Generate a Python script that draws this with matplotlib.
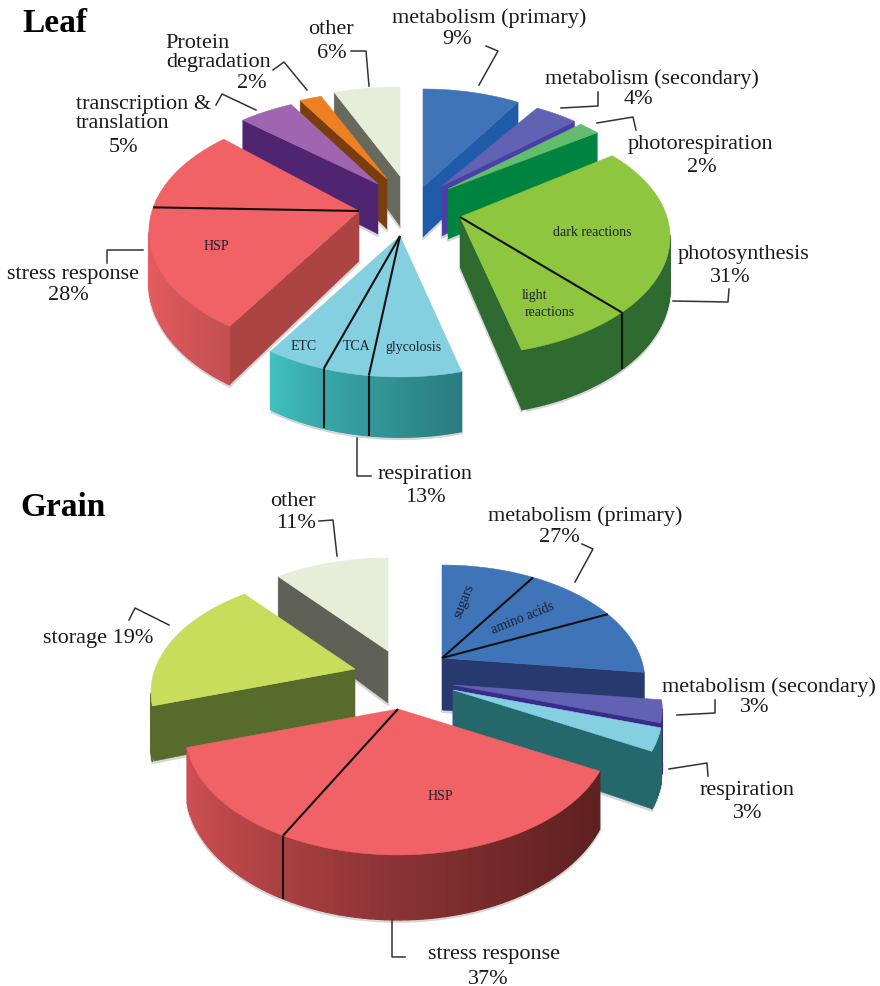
#!/usr/bin/env python3
"""Exploded 3D-style pies of protein functional classes in leaf and grain."""

import numpy as np
import matplotlib
matplotlib.use("Agg")
import matplotlib.pyplot as plt
from matplotlib.collections import PolyCollection
from matplotlib.colors import to_rgb
from matplotlib.patches import Polygon

plt.rcParams["font.family"] = ["Liberation Serif", "DejaVu Serif"]

# ---------------------------------------------------------------------------
# Data (percent of proteins per class, clockwise from 12 o'clock)
# ---------------------------------------------------------------------------

leaf_classes = ["metabolism (primary)", "metabolism (secondary)", "photorespiration",
                "photosynthesis", "respiration", "stress response",
                "transcription & translation", "Protein degradation", "other"]
leaf_values = [9, 4, 2, 31, 13, 28, 5, 2, 6]

# sub-class shares inside a class, in clockwise order
leaf_photosynthesis_parts = [23, 8]      # dark reactions, light reactions
leaf_respiration_parts = [6, 3, 4]       # glycolysis, TCA, ETC
leaf_stress_parts = [16.5, 11.5]         # HSP, remainder

grain_classes = ["metabolism (primary)", "metabolism (secondary)", "respiration",
                 "stress response", "storage", "other"]
grain_values = [27, 3, 3, 37, 19, 11]

grain_primary_parts = [9, 9, 9]          # sugars, amino acids, remainder
grain_stress_parts = [24.5, 12.5]        # HSP, remainder

# ---------------------------------------------------------------------------
# Styles: top face, outer wall at left, outer wall at right, radial wall
# ---------------------------------------------------------------------------

leaf_styles = [
    ("#4074b8", "#1f5ba8", "#1f5ba8", "#1f5ba8"),
    ("#6262b4", "#4a3fa6", "#4a3fa6", "#4a3fa6"),
    ("#62bd6c", "#00843f", "#00843f", "#00843f"),
    ("#8ec63f", "#2f6a30", "#2f6a30", "#2f6a30"),
    ("#85d0e0", "#42c2c2", "#2a7c80", "#2a7c84"),
    ("#f06266", "#e65c60", "#c44f52", "#ad4444"),
    ("#a065b0", "#4f2470", "#4f2470", "#4f2470"),
    ("#ee7f22", "#7a3d10", "#7a3d10", "#7a3d10"),
    ("#e6edd9", "#66695c", "#66695c", "#66695c"),
]
grain_styles = [
    ("#4074b8", "#28396f", "#28396f", "#28396f"),
    ("#6262b4", "#3a2a8a", "#3a2a8a", "#3a2a8a"),
    ("#85d0e0", "#24686c", "#24686c", "#24686c"),
    ("#f06266", "#d05054", "#5e2020", "#5e2020"),
    ("#c9dd5c", "#566b2c", "#566b2c", "#566b2c"),
    ("#e6edd9", "#5f6156", "#5f6156", "#5f6156"),
]

# per-slice pull-out from the pie centre (pixels), radius factor, extra vertical factor
leaf_explode = [(18, -22), (37, -23), (43, -20), (55, 8), (-5, 27),
                (-46, 2), (-27, -25), (-18, -30), (-5, -33)]
leaf_scale = [0.98, 0.98, 0.98, 1, 1, 1, 1, 1, 1]
leaf_yscale = [1, 0.92, 0.92, 0.98, 1, 1, 0.89, 0.88, 0.89]
grain_explode = [(42, -51), (53, -24), (53, -19), (-2, 0), (-45, -40), (-12, -58)]
grain_scale = [0.97, 1, 1, 1.015, 0.975, 0.97]
grain_yscale = [1, 1, 1, 1, 1, 1]

leaf_order = [8, 7, 6, 0, 1, 2, 5, 3, 4]
grain_order = [0, 1, 2, 5, 4, 3]

leaf_splits = {3: leaf_photosynthesis_parts, 4: leaf_respiration_parts, 5: leaf_stress_parts}
grain_splits = {0: grain_primary_parts, 3: grain_stress_parts}

# ---------------------------------------------------------------------------
# Annotations (pixel positions)
# ---------------------------------------------------------------------------

labels = [
    ("metabolism (primary)", 489, 16), ("9%", 457, 37),
    ("metabolism (secondary)", 652, 77), ("4%", 638, 98),
    ("photorespiration", 700, 142), ("2%", 702, 165),
    ("photosynthesis", 744, 252), ("31%", 730, 276),
    ("respiration", 425, 473), ("13%", 425, 495),
    ("stress response", 73, 273), ("28%", 68, 294),
    ("transcription &", 144, 103), ("translation", 123, 121), ("5%", 123, 146),
    ("Protein", 198, 42), ("degradation", 219, 61), ("2%", 252, 82),
    ("other", 331, 28), ("6%", 332, 52),
    ("other", 293, 500), ("11%", 296, 521),
    ("metabolism (primary)", 585, 514), ("27%", 559, 536),
    ("storage 19%", 98, 636),
    ("metabolism (secondary)", 769, 685), ("3%", 755, 706),
    ("respiration", 747, 788), ("3%", 748, 811),
    ("stress response", 494, 952), ("37%", 488, 977),
]

inner_labels = [
    ("dark reactions", 592, 232, 0), ("light", 534, 296, 0), ("reactions", 550, 313, 0),
    ("ETC", 304, 347, 0), ("TCA", 357, 347, 0), ("glycolosis", 413, 347, 0),
    ("HSP", 216, 247, 0),
    ("sugars", 464, 601, 68), ("amino acids", 523, 618, 22), ("HSP", 440, 796, 0),
]

leaders = [
    [(479, 86), (498, 52), (486, 47)],
    [(561, 109), (598, 107), (598, 93)],
    [(597, 124), (633, 118), (636, 131)],
    [(673, 302), (728, 303), (729, 290)],
    [(357, 439), (357, 477), (371, 477)],
    [(107, 264), (107, 251), (143, 251)],
    [(256, 111), (222, 95), (216, 106)],
    [(307, 91), (284, 63), (273, 71)],
    [(369, 87), (366, 52), (351, 52)],
    [(337, 557), (333, 521), (319, 522)],
    [(575, 583), (593, 550), (582, 545)],
    [(169, 626), (135, 609), (129, 621)],
    [(677, 716), (715, 714), (715, 701)],
    [(669, 770), (707, 764), (708, 777)],
    [(392, 921), (392, 958), (405, 958)],
]


# ---------------------------------------------------------------------------
# Drawing
# ---------------------------------------------------------------------------

def project(t, rx, ry, k):
    """Perspective projection of a rim angle (radians, clockwise from top)."""
    s = 1.0 / (1.0 + k * np.cos(t))
    return rx * np.sin(t) * s, -ry * np.cos(t) * s, s


def mix(c0, c1, f):
    a, b = np.array(to_rgb(c0)), np.array(to_rgb(c1))
    return tuple(a + (b - a) * f ** 0.75)


def draw_slice(ax, start, end, style, apex, rx, ry, k, depth, parts, zorder):
    top, wall_l, wall_r, wall_radial = style
    ts = np.linspace(np.deg2rad(start * 3.6), np.deg2rad(end * 3.6), 80)
    x, y, s = project(ts, rx, ry, k)
    x, y = x + apex[0], y + apex[1]
    d = depth * s

    # radial cut faces that look towards the viewer
    radial = []
    if x[0] < apex[0]:
        radial.append(0)
    if x[-1] > apex[0]:
        radial.append(-1)
    for j in radial:
        ax.plot([apex[0], x[j]], [apex[1] + depth + 1.5, y[j] + d[j] + 1.5], color="#d6d6d6",
                lw=2, zorder=zorder, solid_capstyle="round")
        ax.add_patch(Polygon([apex, (x[j], y[j]), (x[j], y[j] + d[j]), (apex[0], apex[1] + depth)],
                             fc=wall_radial, ec=wall_radial, lw=0.4, zorder=zorder))

    # outer wall, shaded strip by strip across its width
    quads, colors = [], []
    span = max(x.max() - x.min(), 1e-6)
    for i in range(len(ts) - 1):
        if x[i + 1] < x[i]:
            quads.append([(x[i], y[i]), (x[i + 1], y[i + 1]),
                          (x[i + 1], y[i + 1] + d[i + 1]), (x[i], y[i] + d[i])])
            colors.append(mix(wall_l, wall_r, (x[i] - x.min()) / span))
    if quads:
        # faint shadow under the wall
        vis = [i for i in range(len(ts) - 1) if x[i + 1] < x[i]]
        ax.plot(x[vis], y[vis] + d[vis] + 1.5, color="#d6d6d6", lw=2, zorder=zorder)
        ax.add_collection(PolyCollection(quads, facecolors=colors, edgecolors=colors,
                                         linewidths=1.0, zorder=zorder))

    ax.add_patch(Polygon(np.vstack([[apex], np.column_stack([x, y])]),
                         fc=top, ec=top, lw=0.4, zorder=zorder))

    # black rules between sub-classes
    if parts:
        for cut in start + np.cumsum(parts)[:-1]:
            tc = np.deg2rad(cut * 3.6)
            px, py, ps = project(tc, rx, ry, k)
            qx, _, _ = project(tc + 0.01, rx, ry, k)
            visible = qx < px
            px, py = px + apex[0], py + apex[1]
            ax.plot([apex[0], px], [apex[1], py], color="#111111", lw=1.5, zorder=zorder,
                    solid_capstyle="butt")
            if visible:
                ax.plot([px, px], [py, py + depth * ps], color="#111111", lw=1.5,
                        zorder=zorder, solid_capstyle="butt")


def draw_pie(ax, values, styles, explode, scale, yscale, order, splits, center, rx, ry, k, depth):
    edges = np.concatenate([[0], np.cumsum(values)])
    for n, i in enumerate(order):
        apex = (center[0] + explode[i][0], center[1] + explode[i][1])
        draw_slice(ax, edges[i], edges[i + 1], styles[i], apex, rx * scale[i],
                   ry * scale[i] * yscale[i], k, depth, splits.get(i), zorder=2 + n)


def main() -> None:
    fig = plt.figure(figsize=(8.8, 9.87), dpi=100)
    ax = fig.add_axes([0, 0, 1, 1])
    ax.set_xlim(0, 880)
    ax.set_ylim(987, 0)
    ax.axis("off")

    draw_pie(ax, leaf_values, leaf_styles, leaf_explode, leaf_scale, leaf_yscale, leaf_order,
             leaf_splits, center=(405, 210), rx=207, ry=117, k=0.17, depth=50)
    draw_pie(ax, grain_values, grain_styles, grain_explode, grain_scale, grain_yscale, grain_order,
             grain_splits, center=(400, 710), rx=205, ry=115, k=0.20, depth=52)

    for path in leaders:
        xs, ys = zip(*path)
        ax.plot(xs, ys, color="#333333", lw=1.1, zorder=30)

    for text, x, y in labels:
        ax.text(x, y + 2, text, fontsize=16, ha="center", va="center", color="#1a1a1a", zorder=31)
    for text, x, y, rot in inner_labels:
        ax.text(x, y, text, fontsize=10, ha="center", va="center", rotation=rot,
                color="#1c2030", zorder=31)

    ax.text(22, 24, "Leaf", fontsize=24, fontweight="bold", ha="left", va="center", color="black")
    ax.text(20, 508, "Grain", fontsize=24, fontweight="bold", ha="left", va="center", color="black")

    fig.savefig("out.png", dpi=100, facecolor="white")
    plt.close(fig)


if __name__ == "__main__":
    main()
